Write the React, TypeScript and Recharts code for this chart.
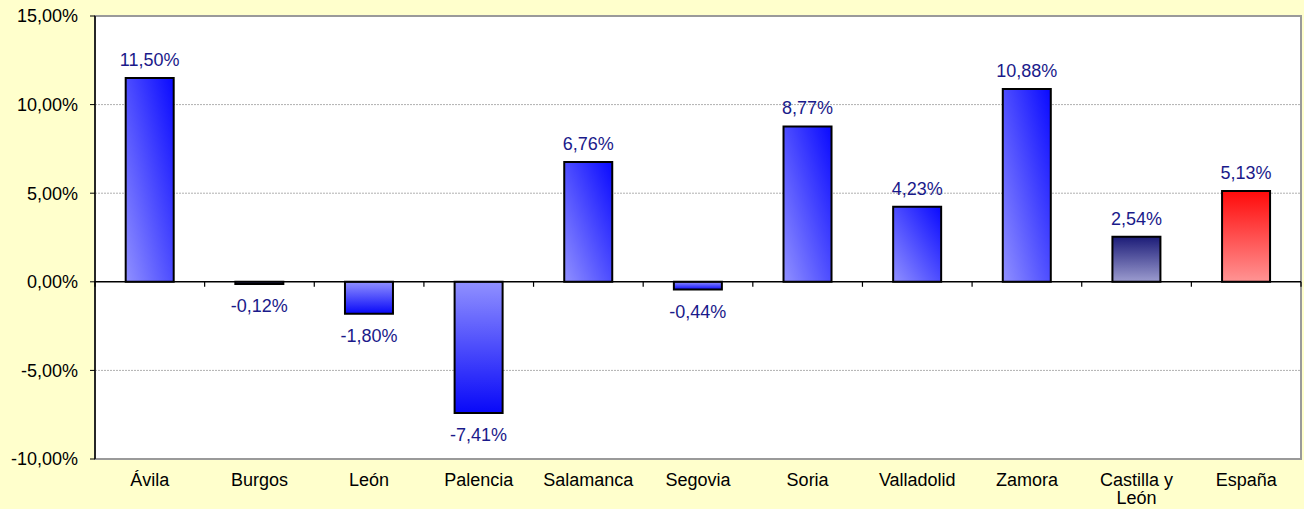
import React from 'react';
import {
  BarChart,
  Bar,
  XAxis,
  YAxis,
  CartesianGrid,
  ReferenceLine,
  ReferenceArea,
  Cell,
  LabelList,
} from 'recharts';

const categories = [
  'Ávila',
  'Burgos',
  'León',
  'Palencia',
  'Salamanca',
  'Segovia',
  'Soria',
  'Valladolid',
  'Zamora',
  'Castilla y León',
  'España',
];

const values = [11.5, -0.12, -1.8, -7.41, 6.76, -0.44, 8.77, 4.23, 10.88, 2.54, 5.13];

const yTicks = [-10, -5, 0, 5, 10, 15];
const gridValues = [-5, 5, 10];

const data = categories.map((name, i) => ({ name, value: values[i] }));

const FONT = '"Liberation Sans", Arial, sans-serif';

const fmt = (v: number) => v.toFixed(2).replace('.', ',') + '%';

const fillFor = (name: string, v: number) => {
  if (name === 'España') return 'url(#gradRed)';
  if (name === 'Castilla y León') return 'url(#gradNavy)';
  return v >= 0 ? 'url(#gradBluePos)' : 'url(#gradBlueNeg)';
};

const CatTick = (props: any) => {
  const { x, y, payload } = props;
  const label: string = payload.value;
  const lines = label === 'Castilla y León' ? ['Castilla y', 'León'] : [label];
  return (
    <text x={x} y={y + 13} textAnchor="middle" fill="#000" fontSize={18} fontFamily={FONT}>
      {lines.map((l, i) => (
        <tspan key={i} x={x} dy={i === 0 ? 0 : 18}>
          {l}
        </tspan>
      ))}
    </text>
  );
};

const ValueLabel = (props: any) => {
  const { x, y, width, height, value } = props;
  const top = Math.min(y, y + height);
  const bottom = Math.max(y, y + height);
  const cx = x + width / 2;
  const ty = value >= 0 ? top - 12 : bottom + 28;
  return (
    <text x={cx} y={ty} textAnchor="middle" fill="#1a1a8a" fontSize={18} fontFamily={FONT}>
      {fmt(value)}
    </text>
  );
};

const ZeroLine = (props: any) => {
  const { x1, x2, y1 } = props;
  const n = categories.length;
  const step = (x2 - x1) / n;
  const ticks = [];
  for (let i = 0; i <= n; i++) {
    const tx = x1 + i * step;
    ticks.push(<line key={i} x1={tx} x2={tx} y1={y1} y2={y1 + 5} stroke="#000" strokeWidth={1.2} />);
  }
  return (
    <g>
      <line x1={x1} x2={x2} y1={y1} y2={y1} stroke="#000" strokeWidth={1.5} />
      {ticks}
    </g>
  );
};

export default function App() {
  return (
    <div
      style={{
        position: 'absolute',
        left: 0,
        top: 0,
        width: 1304,
        height: 509,
        background: '#FFFFCC',
        fontFamily: FONT,
      }}
    >
      <BarChart
        width={1304}
        height={509}
        data={data}
        margin={{ top: 16, right: 3, bottom: 0, left: 0 }}
        barCategoryGap="28%"
      >
        <defs>
          <linearGradient id="gradBluePos" x1="0" y1="1" x2="1" y2="0">
            <stop offset="0%" stopColor="#9090FF" />
            <stop offset="100%" stopColor="#0A0AFF" />
          </linearGradient>
          <linearGradient id="gradBlueNeg" x1="0" y1="0" x2="0" y2="1">
            <stop offset="0%" stopColor="#9090FF" />
            <stop offset="100%" stopColor="#0808F8" />
          </linearGradient>
          <linearGradient id="gradNavy" x1="0" y1="0" x2="0" y2="1">
            <stop offset="0%" stopColor="#1C1C78" />
            <stop offset="100%" stopColor="#9C9CCF" />
          </linearGradient>
          <linearGradient id="gradRed" x1="0" y1="0" x2="0" y2="1">
            <stop offset="0%" stopColor="#FF0A0A" />
            <stop offset="100%" stopColor="#FF9494" />
          </linearGradient>
        </defs>
        <CartesianGrid
          vertical={false}
          horizontalValues={gridValues}
          stroke="#B0B0B0"
          strokeDasharray="2 1"
          fill="#FFFFFF"
          fillOpacity={1}
        />
        <ReferenceArea y1={-10} y2={15} fill="none" stroke="#9A9A9A" strokeWidth={2} ifOverflow="visible" />
        <XAxis
          dataKey="name"
          axisLine={false}
          tickLine={false}
          tickSize={0}
          tickMargin={14}
          height={50}
          interval={0}
          tick={<CatTick />}
        />
        <YAxis
          domain={[-10, 15]}
          ticks={yTicks}
          interval={0}
          width={95}
          tickFormatter={fmt}
          axisLine={{ stroke: '#000', strokeWidth: 1.5 }}
          tickLine={{ stroke: '#000' }}
          tickSize={5}
          tickMargin={12}
          tick={{ fill: '#000', fontSize: 18, fontFamily: FONT }}
        />
        <ReferenceLine y={0} shape={<ZeroLine />} ifOverflow="visible" />
        <Bar dataKey="value" stroke="#000" strokeWidth={2} isAnimationActive={false}>
          {data.map((d, i) => (
            <Cell key={i} fill={fillFor(d.name, d.value)} />
          ))}
          <LabelList dataKey="value" content={<ValueLabel />} />
        </Bar>
      </BarChart>
    </div>
  );
}
